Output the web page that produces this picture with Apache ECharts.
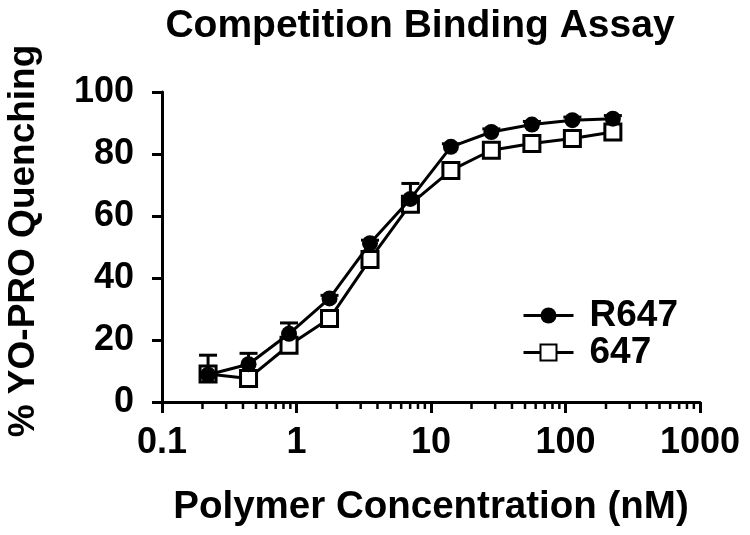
<!DOCTYPE html>
<html>
<head>
<meta charset="utf-8">
<script src="https://cdn.jsdelivr.net/npm/echarts@6/dist/echarts.min.js"></script>
<style>html,body{margin:0;padding:0;background:#fff;}#c{width:750px;height:535px;}</style>
</head>
<body>
<div id="c"></div>
<script>
var concentrations = [0.22, 0.44, 0.88, 1.76, 3.52, 7.03, 14.06, 28.1, 56.25, 112.5, 225];
var r647Values = [8.8, 12.2, 22, 33.4, 51.2, 65.5, 82.3, 87.1, 89.5, 90.9, 91.4];
var r647Errors = [6.3, 3.5, 3.5, 1, 1, 5, 1, 1, 1, 1, 1];
var s647Values = [9, 7.6, 18.3, 26.9, 46, 63.8, 74.7, 81.2, 83.4, 85, 87.1];
var s647Errors = [1, 1, 1, 1, 1, 1, 1, 1, 1, 1, 1];
var minorTickValues = [0.2,0.3,0.4,0.5,0.6,0.7,0.8,0.9,2,3,4,5,6,7,8,9,20,30,40,50,60,70,80,90,200,300,400,500,600,700,800,900];
var yTicks = [0, 20, 40, 60, 80, 100];

var FONT = '"Liberation Sans", Arial, Helvetica, sans-serif';
function pairs(xs, ys) { return xs.map(function (x, i) { return [x, ys[i]]; }); }
function errData(xs, ys, es) { return xs.map(function (x, i) { return [x, ys[i], ys[i] + es[i]]; }); }

function errRender(params, api) {
  var x = api.value(0), y = api.value(1), hi = api.value(2);
  var p0 = api.coord([x, y]), p1 = api.coord([x, hi]);
  var hw = 9;
  return {
    type: 'group',
    children: [
      { type: 'line', shape: { x1: p0[0], y1: p0[1], x2: p1[0], y2: p1[1] }, style: { stroke: '#000', lineWidth: 3 } },
      { type: 'line', shape: { x1: p1[0] - hw, y1: p1[1], x2: p1[0] + hw, y2: p1[1] }, style: { stroke: '#000', lineWidth: 3 } }
    ]
  };
}

var chart = echarts.init(document.getElementById('c'), null, { renderer: 'canvas' });
chart.setOption({
  backgroundColor: '#fff',
  animation: false,
  title: {
    text: 'Competition Binding Assay',
    left: 415, top: 2, textAlign: 'center',
    textStyle: { fontFamily: FONT, fontWeight: 'bold', fontSize: 39, color: '#000' }
  },
  graphic: [{
    type: 'text', x: 24, y: 241, rotation: Math.PI / 2, silent: true,
    style: { text: '% YO-PRO Quenching', fontFamily: FONT, fontWeight: 'bold', fontSize: 37, fill: '#000',
      align: 'center', verticalAlign: 'middle' }
  }],
  legend: {
    orient: 'vertical', left: 517, top: 292, itemWidth: 50, itemHeight: 20, itemGap: 0,
    lineStyle: { width: 3, color: '#000' },
    textStyle: { fontFamily: FONT, fontWeight: 'bold', fontSize: 37, color: '#000', padding: [0, 0, 0, 11] },
    data: ['R647', '647']
  },
  grid: { left: 162, right: 50, top: 92, bottom: 133, containLabel: false },
  xAxis: {
    type: 'log', logBase: 10, min: 0.1, max: 1000,
    name: 'Polymer Concentration (nM)', nameLocation: 'middle', nameGap: 86,
    nameTextStyle: { fontFamily: FONT, fontWeight: 'bold', fontSize: 38.5, color: '#000' },
    axisLine: { onZero: false, lineStyle: { color: '#000', width: 3 } },
    axisTick: { inside: false, length: 11, lineStyle: { color: '#000', width: 3 } },
    axisLabel: { fontFamily: FONT, fontWeight: 'bold', fontSize: 36, color: '#000', margin: 23,
      formatter: function (v) { return String(v); } },
    splitLine: { show: false }, minorTick: { show: false }
  },
  yAxis: {
    type: 'value', min: 0, max: 100, interval: 20,
    axisLine: { show: true, lineStyle: { color: '#000', width: 3 } },
    axisTick: { show: true, length: 10, lineStyle: { color: '#000', width: 3 } },
    axisLabel: { fontFamily: FONT, fontWeight: 'bold', fontSize: 36, color: '#000', margin: 28,
      formatter: function (v) { return yTicks.indexOf(v) >= 0 ? String(v) : ''; } },
    splitLine: { show: false }
  },
  series: [
    {
      name: 'minorTicks', type: 'custom', silent: true, clip: false, z: 1,
      data: minorTickValues.map(function (v) { return [v, 0]; }),
      renderItem: function (params, api) {
        var p = api.coord([api.value(0), 0]);
        return { type: 'line', shape: { x1: p[0], y1: p[1], x2: p[0], y2: p[1] + 7 }, style: { stroke: '#000', lineWidth: 2.5 } };
      }
    },
    { name: 'errR647', type: 'custom', silent: true, z: 1, data: errData(concentrations, r647Values, r647Errors), renderItem: errRender },
    { name: 'err647', type: 'custom', silent: true, z: 1, data: errData(concentrations, s647Values, s647Errors), renderItem: errRender },
    {
      name: '647', type: 'line', z: 3, data: pairs(concentrations, s647Values),
      symbol: 'rect', symbolSize: 16,
      lineStyle: { color: '#000', width: 3 },
      itemStyle: { color: '#fff', borderColor: '#000', borderWidth: 3 }
    },
    {
      name: 'R647', type: 'line', z: 4, data: pairs(concentrations, r647Values),
      symbol: 'circle', symbolSize: 16,
      lineStyle: { color: '#000', width: 3 },
      itemStyle: { color: '#000', borderColor: '#000', borderWidth: 0 }
    }
  ]
});
</script>
</body>
</html>
